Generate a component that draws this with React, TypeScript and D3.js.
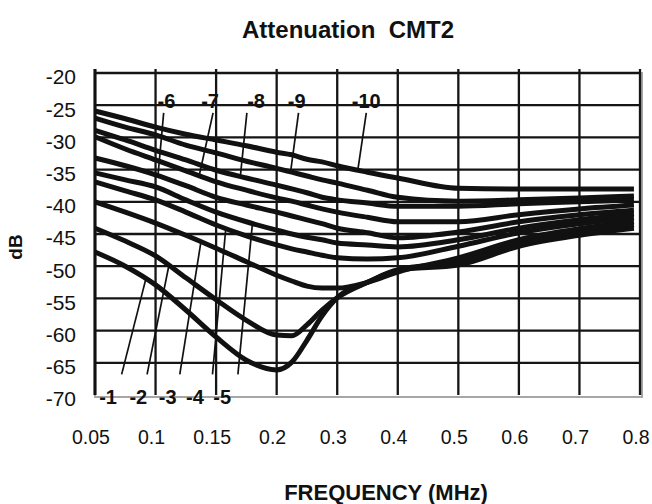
import React from "react";
import * as d3 from "d3";

const W = 652;
const H = 504;

// axis ticks
const freqTicks = [0.05, 0.1, 0.15, 0.2, 0.3, 0.4, 0.5, 0.6, 0.7, 0.8];
const dbTicks = [-20, -25, -30, -35, -40, -45, -50, -55, -60, -65, -70];

// frequencies (MHz) where the curves were read
const sampleFreqs = [0.05, 0.075, 0.1, 0.125, 0.15, 0.175, 0.2, 0.225, 0.25, 0.275, 0.3, 0.35, 0.4, 0.5, 0.6, 0.7, 0.79];

// attenuation (dB), one array per curve
const curve1 = [-47.8, -50.0, -52.9, -56.8, -61.0, -64.6, -66.1, -64.9, -61.5, -57.7, -54.9, -52.5, -50.6, -49.8, -46.9, -45.2, -44.1];
const curve2 = [-44.1, -46.1, -48.4, -51.8, -55.2, -58.4, -60.7, -60.8, -59.1, -56.8, -54.9, -52.5, -50.6, -49.3, -46.4, -44.7, -43.6];
const curve3 = [-40.0, -41.6, -43.3, -45.2, -47.2, -49.3, -51.4, -52.3, -53.1, -53.4, -53.4, -52.5, -50.9, -48.7, -45.9, -44.2, -43.1];
const curve4 = [-36.9, -38.3, -39.7, -41.6, -43.6, -45.3, -46.7, -47.3, -47.8, -48.3, -48.7, -48.9, -48.7, -46.9, -44.8, -43.4, -42.5];
const curve5 = [-35.5, -36.6, -37.7, -39.7, -41.6, -43.1, -44.4, -45.0, -45.5, -45.9, -46.4, -46.7, -47.0, -45.9, -44.1, -42.8, -41.9];
const curve6 = [-33.2, -34.4, -35.8, -37.5, -39.3, -40.5, -41.6, -42.2, -42.8, -43.4, -44.1, -44.8, -45.6, -44.7, -43.1, -42.0, -41.3];
const curve7 = [-29.9, -31.8, -33.5, -35.2, -36.9, -38.2, -39.4, -39.9, -40.5, -41.1, -41.6, -42.4, -43.1, -43.1, -42.0, -41.1, -40.5];
const curve8 = [-28.9, -30.4, -32.0, -33.5, -35.1, -36.3, -37.4, -38.0, -38.6, -39.3, -39.7, -40.2, -40.7, -40.7, -40.3, -40.0, -39.7];
const curve9 = [-27.0, -28.4, -29.6, -31.2, -32.4, -33.7, -34.8, -35.4, -36.0, -36.6, -37.1, -38.2, -39.3, -39.9, -39.7, -39.4, -39.1];
const curve10 = [-25.9, -27.1, -28.4, -29.5, -30.4, -31.3, -32.3, -32.7, -33.4, -33.8, -34.4, -35.4, -36.3, -37.9, -38.0, -38.0, -38.0];

const curveNames = ["-1", "-2", "-3", "-4", "-5", "-6", "-7", "-8", "-9", "-10"];
const curveValues = [curve1, curve2, curve3, curve4, curve5, curve6, curve7, curve8, curve9, curve10];

// callout labels: text position (MHz), leader start (MHz) and leader end on the curve (MHz)
const bottomNames = ["-1", "-2", "-3", "-4", "-5"];
const bottomLabelFreq = [0.0608, 0.0858, 0.11, 0.1325, 0.155];
const bottomLeaderFrom = [0.072, 0.093, 0.12, 0.147, 0.168];
const bottomLeaderTo = [0.092, 0.111, 0.1375, 0.158, 0.18];
const topNames = ["-6", "-7", "-8", "-9", "-10"];
const topLabelFreq = [0.109, 0.145, 0.183, 0.233, 0.348];
const topLeaderFrom = [0.1067, 0.1475, 0.1754, 0.2361, 0.348];
const topLeaderTo = [0.102, 0.136, 0.17, 0.223, 0.334];
const topLabelDb = -24.35;
const topLeaderDb = -26.2;
const bottomLabelDb = -70.3;
const bottomLeaderDb = -66.8;

const FONT = "'Liberation Sans', Arial, Helvetica, sans-serif";

export default function App() {
  const left = 95;
  const right = 640;
  const top = 73;
  const bottom = 395;

  // categories are evenly spaced, curves are placed between them piecewise
  const xPoint = d3.scalePoint<string>().domain(freqTicks.map(String)).range([left, right]);
  const x = d3.scaleLinear().domain(freqTicks).range(freqTicks.map((f) => xPoint(String(f)) as number));
  const y = d3.scaleLinear().domain([-70, -20]).range([bottom, top]);

  const line = d3
    .line<[number, number]>()
    .x((d) => x(d[0]))
    .y((d) => y(d[1]))
    .curve(d3.curveMonotoneX);

  const series = curveNames.map((name, i) => ({
    name,
    values: curveValues[i],
    interp: d3.scaleLinear().domain(sampleFreqs).range(curveValues[i]),
  }));
  const byName = (n: string) => series.find((s) => s.name === n)!;

  return (
    <svg width={W} height={H} style={{ position: "absolute", left: 0, top: 0 }} fontFamily={FONT}>
      <rect width={W} height={H} fill="#fff" />

      <text x={348} y={38} textAnchor="middle" fontSize={24} fontWeight="bold" fill="#111">
        {"Attenuation\u00a0\u00a0CMT2"}
      </text>

      {/* plot frame */}
      <rect x={left} y={top} width={right - left + 2} height={bottom - top + 2} fill="none" stroke="#a6a6a6" strokeWidth={2} />

      {/* horizontal grid */}
      {dbTicks
        .filter((v) => v !== -70)
        .map((v) => (
          <line key={v} x1={left} x2={right} y1={y(v)} y2={y(v)} stroke="#151515" strokeWidth={2.3} />
        ))}
      {/* vertical grid with small ticks above */}
      {freqTicks.map((f) => (
        <line key={f} x1={x(f)} x2={x(f)} y1={top - 4} y2={bottom} stroke="#151515" strokeWidth={2.3} />
      ))}
      <line x1={left} x2={left} y1={top - 4} y2={bottom} stroke="#111" strokeWidth={3} />

      {/* y ticks */}
      {dbTicks.map((v) => (
        <text key={v} x={76} y={y(v) + 4} dy="0.35em" textAnchor="end" fontSize={21} fill="#111">
          {v}
        </text>
      ))}
      {/* x ticks */}
      {freqTicks.map((f) => (
        <text key={f} x={x(f) - 4} y={444} textAnchor="middle" fontSize={19.5} fill="#111">
          {f}
        </text>
      ))}

      <text transform={`translate(22,${(top + bottom) / 2 + 13}) rotate(-90)`} textAnchor="middle" fontSize={19} fontWeight="bold" fill="#111">
        dB
      </text>
      <text x={386} y={500} textAnchor="middle" fontSize={22} fontWeight="bold" fill="#111">
        FREQUENCY (MHz)
      </text>

      {/* curves */}
      {series.map((s) => (
        <path
          key={s.name}
          d={line(sampleFreqs.map((f, i) => [f, s.values[i]]) as [number, number][]) || ""}
          fill="none"
          stroke="#111"
          strokeWidth={5}
          strokeLinejoin="round"
          strokeLinecap="butt"
        />
      ))}

      {/* callouts */}
      {topNames.map((n, i) => (
        <g key={n}>
          <line
            x1={x(topLeaderFrom[i])}
            y1={y(topLeaderDb)}
            x2={x(topLeaderTo[i])}
            y2={y(byName(n).interp(topLeaderTo[i]))}
            stroke="#111"
            strokeWidth={1.7}
          />
          <text x={x(topLabelFreq[i])} y={y(topLabelDb)} dy="0.35em" textAnchor="middle" fontSize={20} fontWeight="bold" fill="#111">
            {n}
          </text>
        </g>
      ))}
      {bottomNames.map((n, i) => (
        <g key={n}>
          <line
            x1={x(bottomLeaderFrom[i])}
            y1={y(bottomLeaderDb)}
            x2={x(bottomLeaderTo[i])}
            y2={y(byName(n).interp(bottomLeaderTo[i]))}
            stroke="#111"
            strokeWidth={1.7}
          />
          <text x={x(bottomLabelFreq[i])} y={y(bottomLabelDb)} dy="0.35em" textAnchor="middle" fontSize={20} fontWeight="bold" fill="#111">
            {n}
          </text>
        </g>
      ))}
    </svg>
  );
}
